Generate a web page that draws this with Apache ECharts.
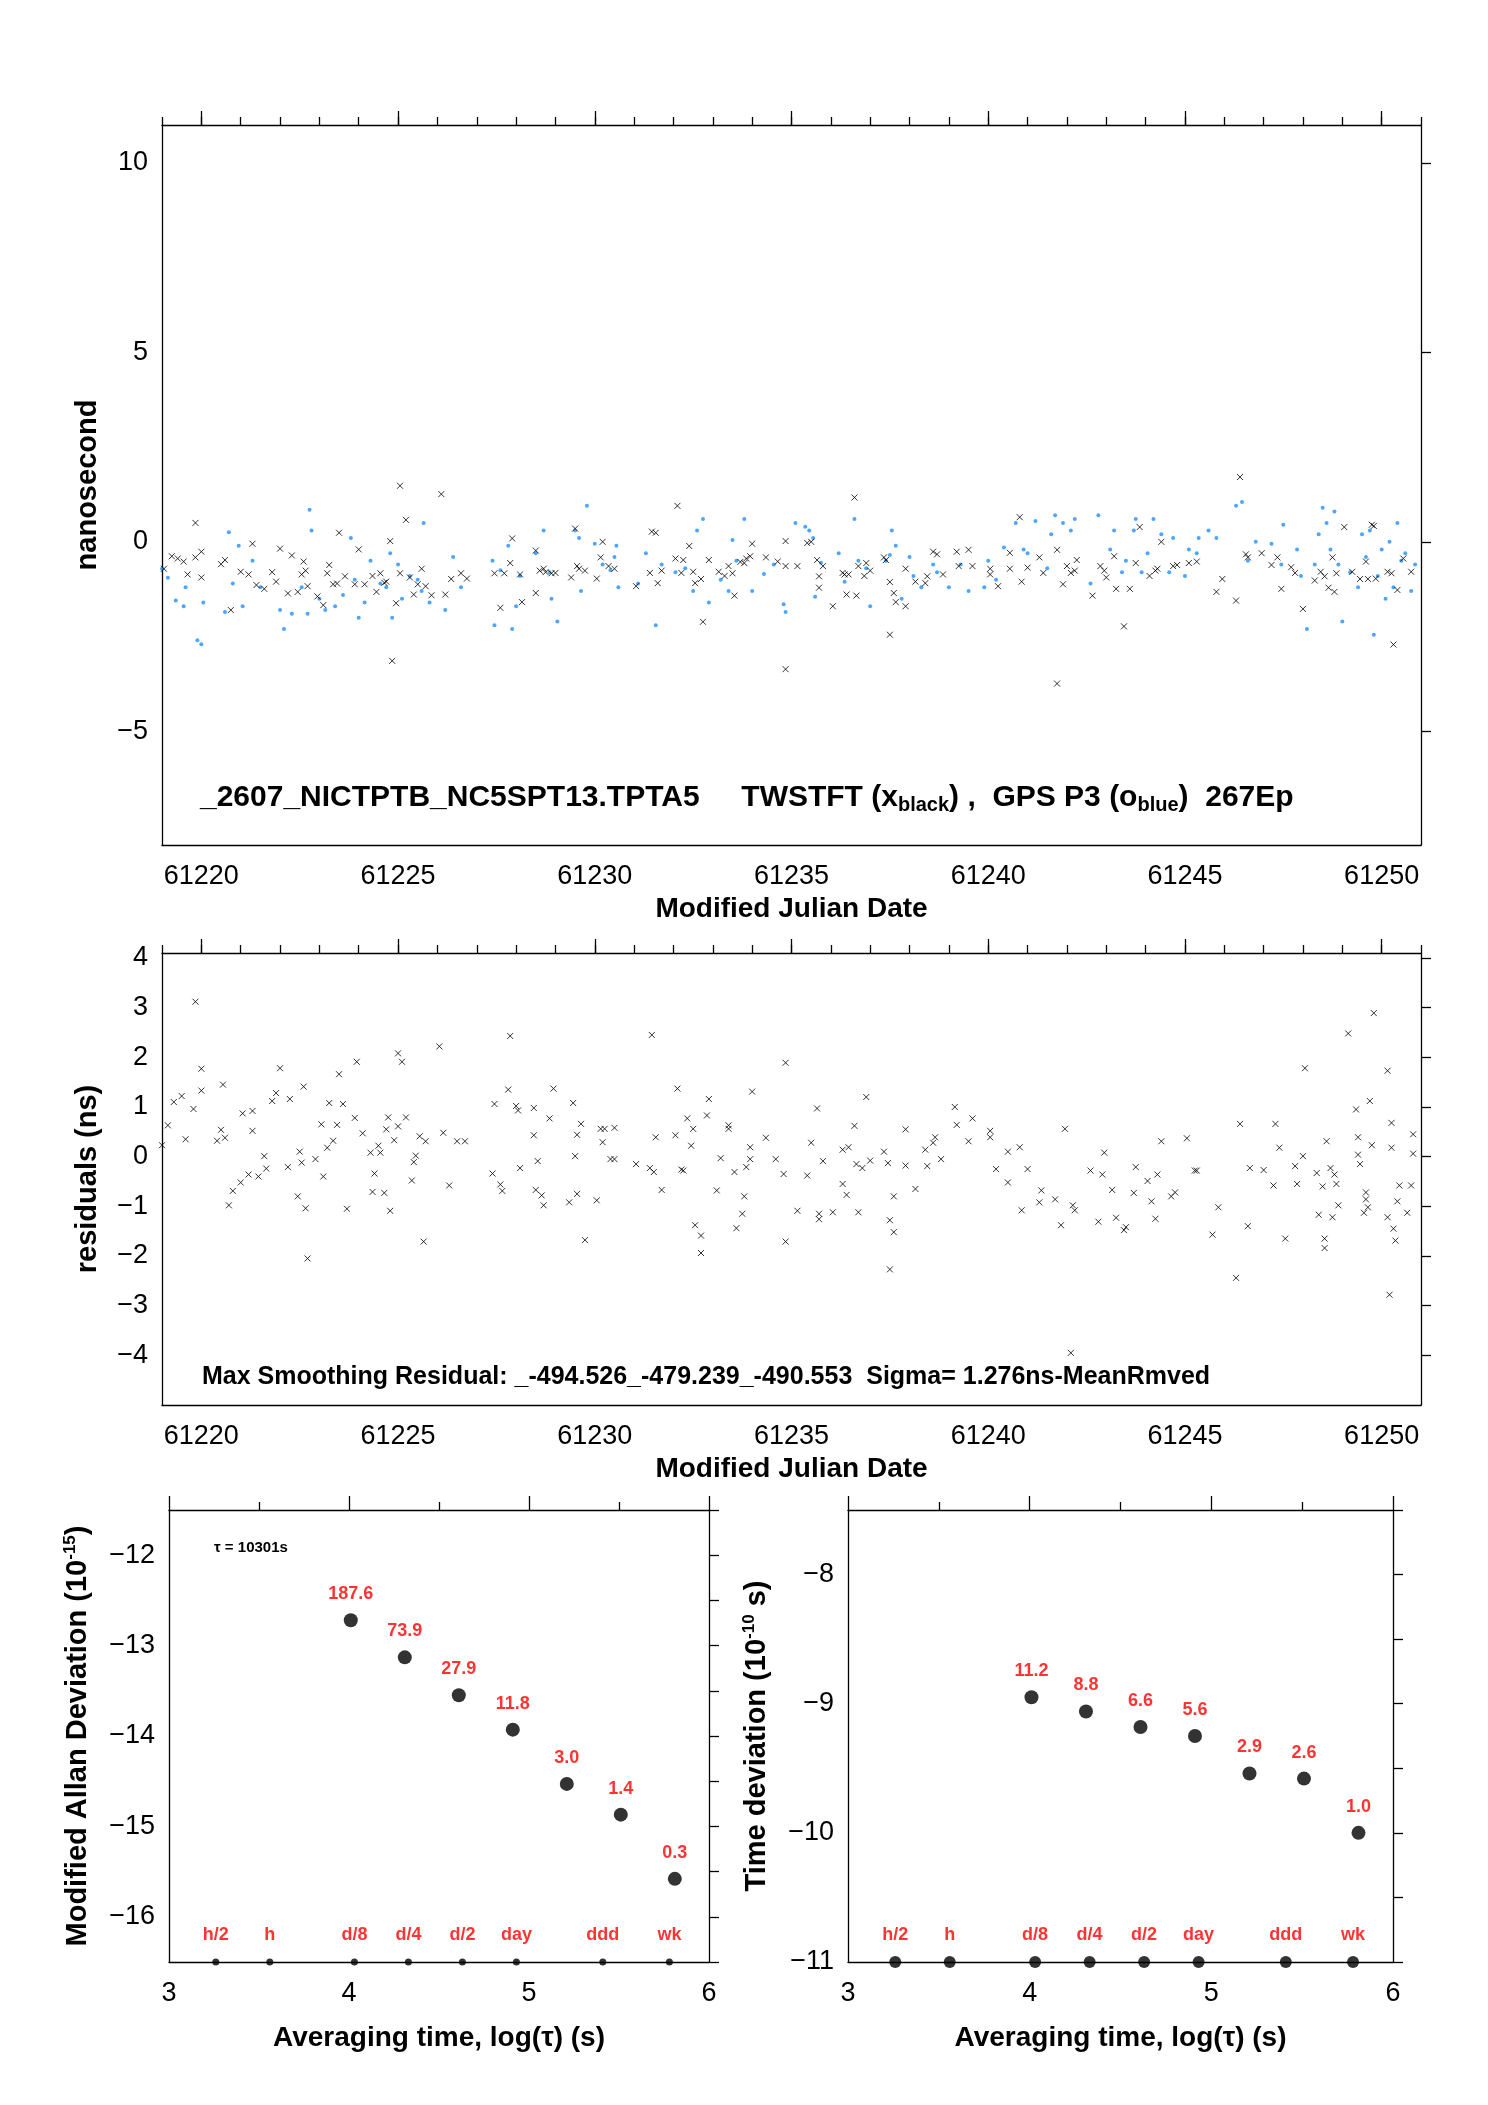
<!DOCTYPE html>
<html><head><meta charset="utf-8">
<script src="https://cdn.jsdelivr.net/npm/echarts@6/dist/echarts.min.js"></script>
<style>html,body{margin:0;padding:0;background:#fff}#c{width:1488px;height:2105px}</style>
</head><body><div id="c"></div>
<script>
// ---- data ----
const twMjd=[61219.05,61219.25,61219.4,61219.55,61219.65,61219.85,61219.85,61220.0,61220.0,61220.5,61220.6,61220.75,61221.0,61221.2,61221.3,61221.4,61221.6,61221.8,61221.9,61222.0,61222.2,61222.3,61222.45,61222.55,61222.6,61222.65,61222.7,61222.95,61223.1,61223.2,61223.25,61223.35,61223.45,61223.5,61223.65,61223.9,61224.0,61224.15,61224.35,61224.45,61224.55,61224.65,61224.7,61224.8,61224.85,61224.95,61225.05,61225.05,61225.2,61225.3,61225.4,61225.5,61225.6,61225.7,61225.85,61226.1,61226.2,61226.35,61226.6,61226.75,61227.45,61227.6,61227.7,61227.85,61227.9,61228.1,61228.15,61228.5,61228.5,61228.6,61228.7,61228.75,61228.9,61229.0,61229.4,61229.5,61229.55,61229.6,61229.75,61230.05,61230.15,61230.2,61230.35,61230.5,61231.05,61231.4,61231.45,61231.55,61231.6,61231.7,61232.05,61232.1,61232.2,61232.25,61232.4,61232.5,61232.55,61232.7,61232.75,61232.9,61233.15,61233.3,61233.4,61233.5,61233.55,61233.7,61233.8,61233.85,61233.95,61234.0,61234.35,61234.65,61234.85,61234.85,61234.85,61235.15,61235.4,61235.5,61235.65,61235.7,61235.7,61235.8,61236.05,61236.3,61236.35,61236.4,61236.45,61236.6,61236.65,61236.7,61236.85,61236.9,61237.0,61237.35,61237.4,61237.5,61237.5,61237.6,61237.65,61237.9,61237.9,61238.15,61238.4,61238.45,61238.6,61238.7,61238.85,61239.2,61239.25,61239.5,61239.6,61240.05,61240.05,61240.25,61240.55,61240.55,61240.8,61240.85,61241.0,61241.3,61241.4,61241.75,61241.75,61241.9,61242.0,61242.1,61242.2,61242.25,61242.65,61242.85,61242.95,61243.0,61243.2,61243.25,61243.45,61243.6,61243.75,61243.85,61244.1,61244.25,61244.3,61244.4,61244.7,61244.8,61245.1,61245.3,61245.8,61245.95,61246.3,61246.4,61246.55,61246.6,61246.95,61247.2,61247.35,61247.45,61247.7,61247.8,61248.0,61248.3,61248.45,61248.55,61248.65,61248.75,61248.8,61248.85,61249.05,61249.25,61249.45,61249.6,61249.65,61249.75,61249.8,61249.85,61250.15,61250.25,61250.3,61250.4,61250.55,61250.75];
const twVal=[-0.71,-0.38,-0.44,-0.52,-0.86,-0.41,0.5,-0.94,-0.26,-0.59,-0.48,-1.8,-0.79,-0.86,-0.05,-1.14,-1.24,-0.8,-1.05,-0.18,-1.36,-0.36,-1.32,-0.86,-0.52,-0.76,-1.17,-1.44,-1.67,-0.83,-0.61,-1.12,-1.1,0.24,-0.91,-1.12,-0.2,-1.12,-0.9,-1.32,-0.83,-1.08,-1.05,0.02,-3.14,-1.62,1.48,-0.83,0.58,-0.94,-1.39,-1.12,-0.71,-1.17,-1.41,1.26,-1.39,-0.98,-0.83,-0.97,-0.83,-1.74,-0.83,-0.56,0.09,-0.86,-1.59,-0.23,-1.35,-0.76,-0.71,-0.8,-0.83,-0.82,-0.94,0.35,-0.64,-0.71,-0.76,-0.97,-0.41,0.0,-0.64,-0.71,-1.17,-0.82,0.27,0.24,-1.09,-0.76,-0.44,0.95,-0.82,-0.48,-0.11,-0.79,-1.09,-0.98,-2.11,-0.48,-0.79,-0.9,-0.64,-0.83,-1.42,-0.53,-0.56,-0.44,-0.38,-0.05,-0.41,-0.52,-0.64,0.02,-3.36,-0.64,-0.03,0.0,-0.48,-0.91,-1.21,-0.64,-1.7,-0.82,-0.86,-1.39,-0.86,1.17,-1.42,-0.64,-0.9,-0.56,-0.76,-0.41,-0.48,-1.06,-2.45,-1.35,-1.59,-1.7,-0.71,-1.05,-1.09,-0.91,-0.26,-0.33,-0.86,-0.26,-0.64,-0.21,-0.64,-0.71,-0.86,-1.17,-0.29,-0.71,0.65,-1.05,-0.68,-0.41,-0.82,-0.21,-3.74,-1.12,-0.64,-0.82,-0.76,-0.48,-1.42,-0.64,-0.76,-0.94,-0.38,-1.24,-2.23,-1.24,-0.56,0.39,-0.9,-0.76,-0.71,0.0,-0.64,-0.61,-0.56,-0.52,-1.32,-0.98,-1.55,1.71,-0.33,-0.41,-0.3,-0.61,-0.41,-1.24,-0.67,-0.82,-1.77,-1.02,-0.79,-0.91,-1.21,-0.41,-1.32,-0.83,0.39,-0.79,-0.98,-0.52,-0.98,0.45,0.42,-0.97,-0.79,-0.83,-2.71,-1.27,-0.44,-0.79,-2.91,-0.86];
const gpsMjd=[61219.0,61219.15,61219.35,61219.55,61219.6,61219.9,61220.0,61220.05,61220.6,61220.7,61220.8,61220.95,61221.05,61221.3,61221.5,61222.0,61222.1,61222.3,61222.55,61222.7,61222.75,61222.8,61223.0,61223.15,61223.4,61223.6,61223.8,61223.9,61224.0,61224.15,61224.3,61224.55,61224.7,61224.8,61224.85,61225.0,61225.1,61225.3,61225.5,61225.6,61225.65,61225.8,61226.2,61226.4,61226.6,61227.4,61227.45,61227.6,61227.8,61227.9,61228.0,61228.1,61228.5,61228.7,61228.85,61228.9,61229.05,61229.5,61229.6,61229.65,61229.8,61230.0,61230.2,61230.4,61230.5,61230.55,61230.6,61231.1,61231.3,61231.55,61231.7,61232.05,61232.3,61232.5,61232.6,61232.75,61232.9,61233.2,61233.4,61233.5,61233.6,61233.8,61234.0,61234.3,61234.55,61234.8,61234.85,61235.1,61235.35,61235.45,61235.55,61235.6,61235.75,61236.2,61236.35,61236.6,61236.7,61236.9,61237.0,61237.4,61237.5,61237.55,61237.65,61237.8,61238.0,61238.1,61238.3,61238.6,61238.7,61239.0,61239.3,61239.5,61239.9,61240.0,61240.2,61240.4,61240.7,61240.9,61241.0,61241.2,61241.5,61241.6,61241.7,61241.9,61242.1,61242.2,61242.6,61242.8,61243.1,61243.2,61243.4,61243.5,61243.7,61243.75,61243.9,61244.05,61244.2,61244.4,61244.6,61244.7,61245.0,61245.1,61245.3,61245.35,61245.6,61245.8,61246.3,61246.45,61246.6,61246.8,61247.2,61247.45,61247.5,61247.85,61247.95,61248.1,61248.3,61248.4,61248.5,61248.6,61248.7,61248.8,61248.9,61249.0,61249.2,61249.4,61249.5,61249.6,61249.7,61249.8,61249.9,61250.0,61250.1,61250.2,61250.3,61250.4,61250.5,61250.6,61250.75,61250.85];
const gpsVal=[-0.71,-0.95,-1.55,-1.7,-1.2,-2.6,-2.7,-1.6,-1.85,0.25,-1.1,-0.1,-1.7,-0.5,-1.2,-1.8,-2.3,-1.9,-1.2,-1.9,0.85,0.3,-1.5,-1.8,-1.7,-1.4,0.1,-1.0,-2.0,-1.6,-0.5,-1.1,-1.2,-0.3,-2.0,-0.6,-1.5,-0.9,-1.0,-1.3,0.5,-1.6,-1.8,-0.4,-1.2,-0.5,-2.2,-0.75,-0.1,-2.3,-1.7,-0.9,-0.3,0.3,-0.8,-1.5,-2.1,0.3,0.1,-1.3,0.95,-0.05,-0.6,-0.75,-0.4,-0.1,-1.2,-1.1,-0.3,-2.2,-0.6,-0.8,-0.7,-1.3,0.3,0.6,-1.6,-1.0,-1.3,0.05,-0.5,0.6,-1.3,-0.85,-0.6,-1.65,-1.85,0.5,0.4,0.3,0.1,-1.45,-0.55,-0.3,-1.05,0.6,-0.5,-0.7,-1.7,-0.5,-0.35,0.3,-0.1,-1.5,-0.4,-0.9,-1.2,-0.6,-0.8,-1.2,-0.6,-1.3,-1.2,-0.5,-1.0,-0.15,0.5,-0.2,-0.3,0.55,-0.7,0.2,0.7,0.5,0.3,0.6,-1.1,0.7,-0.2,0.3,-0.8,-0.5,0.3,0.6,-0.8,-0.3,0.6,0.2,-0.8,0.1,-0.9,-0.2,-0.3,0.1,0.3,0.1,0.95,1.05,-0.5,0.0,-0.05,-0.6,0.45,-0.2,-0.9,-2.3,-0.6,0.2,0.9,0.5,-0.2,0.8,-0.6,-2.1,-0.8,-1.2,0.2,-0.4,0.3,-2.45,-0.9,-0.2,-1.5,0.0,-1.2,0.5,-0.5,-0.3,-1.3,-0.6];
const resMjd=[61219.0,61219.15,61219.3,61219.5,61219.6,61219.85,61219.8,61220.0,61220.0,61220.4,61220.5,61220.55,61220.6,61220.7,61220.8,61221.0,61221.05,61221.2,61221.3,61221.3,61221.45,61221.6,61221.65,61221.8,61221.9,61222.0,61222.2,61222.25,61222.45,61222.5,61222.55,61222.6,61222.65,61222.7,61222.9,61223.05,61223.1,61223.2,61223.25,61223.35,61223.45,61223.5,61223.6,61223.7,61223.9,61223.95,61224.1,61224.3,61224.35,61224.4,61224.5,61224.55,61224.65,61224.7,61224.75,61224.8,61224.9,61225.0,61225.0,61225.1,61225.2,61225.35,61225.4,61225.45,61225.55,61225.65,61225.7,61226.05,61226.15,61226.3,61226.5,61226.7,61227.4,61227.45,61227.6,61227.65,61227.8,61227.85,61228.0,61228.05,61228.1,61228.45,61228.45,61228.5,61228.55,61228.65,61228.7,61228.85,61228.95,61229.35,61229.45,61229.5,61229.55,61229.55,61229.65,61229.75,61230.05,61230.15,61230.2,61230.25,61230.4,61230.5,61230.5,61231.05,61231.4,61231.45,61231.5,61231.55,61231.7,61232.05,61232.1,61232.2,61232.25,61232.35,61232.45,61232.5,61232.55,61232.7,61232.7,61232.85,61232.9,61233.1,61233.2,61233.4,61233.4,61233.55,61233.6,61233.75,61233.8,61233.85,61233.95,61233.95,61234.0,61234.35,61234.6,61234.8,61234.85,61234.85,61235.15,61235.4,61235.5,61235.65,61235.7,61235.7,61235.8,61236.05,61236.3,61236.3,61236.4,61236.45,61236.6,61236.65,61236.7,61236.8,61236.9,61237.0,61237.35,61237.45,61237.5,61237.5,61237.6,61237.6,61237.9,61237.9,61238.15,61238.4,61238.45,61238.6,61238.65,61238.8,61239.15,61239.2,61239.5,61239.6,61240.05,61240.05,61240.2,61240.5,61240.5,61240.8,61240.85,61241.0,61241.3,61241.35,61241.7,61241.85,61241.95,61242.1,61242.15,61242.2,61242.6,61242.8,61242.9,61242.95,61243.15,61243.25,61243.45,61243.5,61243.7,61243.75,61244.05,61244.15,61244.25,61244.3,61244.4,61244.65,61244.75,61245.05,61245.25,61245.3,61245.7,61245.85,61246.3,61246.4,61246.6,61246.65,61247.0,61247.25,61247.3,61247.4,61247.55,61247.8,61247.85,61248.0,61248.05,61248.35,61248.4,61248.5,61248.55,61248.55,61248.6,61248.7,61248.75,61248.8,61248.85,61248.9,61249.15,61249.35,61249.4,61249.4,61249.45,61249.55,61249.6,61249.6,61249.65,61249.7,61249.75,61249.8,61250.15,61250.15,61250.2,61250.25,61250.25,61250.3,61250.35,61250.4,61250.45,61250.65,61250.75,61250.8,61250.8];
const resVal=[0.23,0.63,1.1,1.22,0.35,3.12,0.96,1.77,1.33,0.32,0.54,1.45,0.38,-0.98,-0.69,-0.52,0.87,-0.36,0.52,0.92,-0.4,0.01,-0.24,1.12,1.28,1.78,-0.21,1.16,-0.8,0.1,-0.12,1.41,-1.04,-2.05,-0.05,0.65,-0.4,0.18,1.08,0.32,0.64,1.66,1.06,-1.05,0.78,1.91,0.47,0.08,-0.71,-0.34,0.22,0.08,-0.73,0.55,0.79,-1.09,0.33,0.61,2.08,1.91,0.79,-0.48,-0.11,0.02,0.41,-1.71,0.31,2.22,0.48,-0.58,0.31,0.31,-0.34,1.06,-0.56,-0.69,1.35,2.43,1.02,0.93,-0.23,0.98,0.43,-0.67,-0.09,-0.78,-0.98,0.77,1.37,-0.92,1.08,0.01,0.44,-0.75,0.66,-1.68,-0.88,0.56,0.29,0.56,-0.05,-0.05,0.58,-0.15,-0.23,2.45,-0.31,0.39,-0.67,0.43,1.37,-0.26,-0.28,0.77,0.22,0.56,-1.38,-1.59,-1.94,0.83,1.16,-0.68,-0.03,0.63,0.56,-0.31,-1.44,-1.15,-0.8,-0.21,0.19,-0.05,1.31,0.38,-0.05,-0.35,1.89,-1.71,-1.09,-0.38,0.28,0.97,-1.26,-1.15,-0.09,-1.12,-0.55,0.14,-0.77,0.19,0.62,-0.15,-1.12,-0.23,1.2,-0.08,0.1,-0.13,-1.28,-2.27,-0.8,-1.52,-0.18,0.55,-0.65,0.14,-0.19,0.28,0.39,-0.05,1.0,0.64,0.31,0.77,0.52,0.39,-0.25,0.1,-0.52,0.19,-1.08,-0.25,-0.92,-0.68,-0.86,-1.38,0.56,-3.95,-0.98,-1.08,-0.28,-1.31,-0.36,0.08,-0.67,-1.23,-1.48,-1.42,-0.73,-0.21,-0.49,-0.9,-1.25,-0.36,0.31,-0.8,-0.72,0.37,-0.28,-0.28,-1.57,-1.02,-2.44,0.66,-1.4,-0.23,-0.27,-0.58,0.66,0.18,-1.65,-0.19,-0.55,0.01,1.78,-0.33,-1.17,-0.6,-1.65,-1.84,0.31,-0.23,-1.22,-0.36,-0.55,-0.98,2.48,0.95,0.39,0.04,-0.15,-1.13,-0.86,-0.72,-1.02,1.12,0.23,2.89,1.73,-1.22,-2.78,0.68,0.18,-1.45,-1.69,-0.9,-0.58,-1.13,-0.58,0.06,0.45,-0.13];
const adevX=[4.01,4.31,4.61,4.91,5.21,5.51,5.81];
const adevY=[-12.72,-13.13,-13.55,-13.93,-14.53,-14.87,-15.58];
const adevLbl=['187.6','73.9','27.9','11.8','3.0','1.4','0.3'];
const tdevX=[4.01,4.31,4.61,4.91,5.21,5.51,5.81];
const tdevY=[-8.95,-9.06,-9.18,-9.25,-9.54,-9.58,-10.0];
const tdevLbl=['11.2','8.8','6.6','5.6','2.9','2.6','1.0'];
const tauX=[3.26,3.56,4.03,4.33,4.63,4.93,5.41,5.78];
const tauLbl=['h/2','h','d/8','d/4','d/2','day','ddd','wk'];
const mjdTicks=[61220,61225,61230,61235,61240,61245,61250];
const nsTicks=[-5,0,5,10];
const resTicks=[-4,-3,-2,-1,0,1,2,3,4];
const adevTicks=[-16,-15,-14,-13,-12];
const tdevTicks=[-11,-10,-9,-8];

// ---- chart ----
const F='Liberation Sans';
const zip=(a,b)=>a.map((v,i)=>[v,b[i]]);
const X='path://M0,0L10,10M10,0L0,10';
const fmt=v=>String(v).replace('-','\u2212');
const ch=echarts.init(document.getElementById('c'),null,{renderer:'canvas'});
const grids=[
 {left:162,top:125,width:1259,height:720},
 {left:162,top:953,width:1259,height:452},
 {left:169,top:1510,width:540,height:452},
 {left:848,top:1510,width:545,height:452}];
const lineS={show:true,onZero:false,lineStyle:{color:'#000',width:1.3}};
const xAxes=[],yAxes=[];
function xset(g,min,max,labels,major,minor,name,nameGap){
  xAxes.push({gridIndex:g,type:'value',min,max,position:'bottom',axisLine:lineS,splitLine:{show:false},
   axisTick:{show:false},axisLabel:{customValues:labels,formatter:fmt,fontFamily:F,fontSize:27,color:'#000',margin:18},
   name,nameLocation:'middle',nameGap,nameTextStyle:{fontFamily:F,fontWeight:'bold',fontSize:28,color:'#000'}});
  xAxes.push({gridIndex:g,type:'value',min,max,position:'top',axisLine:lineS,splitLine:{show:false},
   axisTick:{show:true,inside:false,length:14,customValues:major,lineStyle:{color:'#000',width:1.3}},axisLabel:{show:false}});
  xAxes.push({gridIndex:g,type:'value',min,max,position:'top',axisLine:{show:false,onZero:false},splitLine:{show:false},
   axisTick:{show:true,inside:false,length:8,customValues:minor,lineStyle:{color:'#000',width:1.3}},axisLabel:{show:false}});
}
function yset(g,min,max,labels,rticks,name,nameGap,rich){
  yAxes.push({gridIndex:g,type:'value',min,max,position:'left',axisLine:lineS,splitLine:{show:false},
   axisTick:{show:false},axisLabel:{customValues:labels,formatter:fmt,fontFamily:F,fontSize:27,color:'#000',margin:14},
   name,nameLocation:'middle',nameGap,nameRotate:90,nameTextStyle:{fontFamily:F,fontWeight:'bold',fontSize:29,color:'#000',rich}});
  yAxes.push({gridIndex:g,type:'value',min,max,position:'right',axisLine:lineS,splitLine:{show:false},
   axisTick:{show:true,inside:false,length:10,customValues:rticks,lineStyle:{color:'#000',width:1.3}},axisLabel:{show:false}});
}
const days=[];for(let d=61219;d<=61251;d++)days.push(d);
xset(0,61219,61251,mjdTicks,mjdTicks,days,'Modified Julian Date',50);
xset(1,61219,61251,mjdTicks,mjdTicks,days,'Modified Julian Date',50);
xset(2,3,6,[3,4,5,6],[3,4,5,6],[3.5,4.5,5.5],'Averaging time, log(τ) (s)',62);
xset(3,3,6,[3,4,5,6],[3,4,5,6],[3.5,4.5,5.5],'Averaging time, log(τ) (s)',62);
yset(0,-8,11,nsTicks,nsTicks,'nanosecond',60);
yset(1,-5,4.1,resTicks,resTicks,'residuals (ns)',60);
const sup={sup:{fontFamily:F,fontWeight:'bold',fontSize:17,verticalAlign:'top',padding:[0,0,14,0],color:'#000'}};
yset(2,-16.5,-11.5,adevTicks,[-16.5,-16,-15.5,-15,-14.5,-14,-13.5,-13,-12.5,-12,-11.5],'Modified Allan Deviation (10{sup|-15})',76,sup);
yset(3,-11,-7.5,tdevTicks,[-11,-10.5,-10,-9.5,-9,-8.5,-8,-7.5],'Time deviation (10{sup|-10} s)',76,sup);

const redLbl={show:true,position:'top',distance:10,color:'#ff0000',fontFamily:F,fontWeight:'bold',fontSize:18};
const series=[
 {type:'scatter',xAxisIndex:0,yAxisIndex:0,data:zip(gpsMjd,gpsVal),symbol:'circle',symbolSize:4,itemStyle:{color:'#1e90ff'},silent:true},
 {type:'scatter',xAxisIndex:0,yAxisIndex:0,data:zip(twMjd,twVal),symbol:X,symbolSize:6,itemStyle:{color:'none',borderColor:'#000',borderWidth:1},silent:true},
 {type:'scatter',xAxisIndex:3,yAxisIndex:2,data:zip(resMjd,resVal),symbol:X,symbolSize:6,itemStyle:{color:'none',borderColor:'#000',borderWidth:1},silent:true},
 {type:'scatter',xAxisIndex:6,yAxisIndex:4,data:adevX.map((x,i)=>({value:[x,adevY[i]],label:{formatter:adevLbl[i]}})),symbolSize:14,itemStyle:{color:'#000'},label:redLbl,silent:true},
 {type:'scatter',xAxisIndex:6,yAxisIndex:4,data:tauX.map((x,i)=>({value:[x,-16.5],label:{formatter:tauLbl[i]}})),symbolSize:7,itemStyle:{color:'#000'},label:Object.assign({},redLbl,{distance:14}),silent:true},
 {type:'scatter',xAxisIndex:9,yAxisIndex:6,data:tdevX.map((x,i)=>({value:[x,tdevY[i]],label:{formatter:tdevLbl[i]}})),symbolSize:14,itemStyle:{color:'#000'},label:redLbl,silent:true},
 {type:'scatter',xAxisIndex:9,yAxisIndex:6,data:tauX.map((x,i)=>({value:[x,-11],label:{formatter:tauLbl[i]}})),symbolSize:12,itemStyle:{color:'#000'},label:Object.assign({},redLbl,{distance:12}),silent:true}
];
const graphic=[
 {type:'text',left:200,top:783,style:{text:'_2607_NICTPTB_NC5SPT13.TPTA5     TWSTFT (x{s|black}) ,  GPS P3 (o{s|blue})  267Ep',
   font:'bold 30px Liberation Sans',fill:'#000',rich:{s:{font:'bold 20px Liberation Sans',fill:'#000',padding:[15,0,0,0]}}}},
 {type:'text',left:202,top:1365,style:{text:'Max Smoothing Residual: _-494.526_-479.239_-490.553  Sigma= 1.276ns-MeanRmved',font:'bold 25px Liberation Sans',fill:'#000'}},
 {type:'text',left:214,top:1540,style:{text:'τ = 10301s',font:'bold 15px Liberation Sans',fill:'#000'}}
];
ch.setOption({animation:false,backgroundColor:'#fff',grid:grids,xAxis:xAxes,yAxis:yAxes,series,graphic});
</script></body></html>
